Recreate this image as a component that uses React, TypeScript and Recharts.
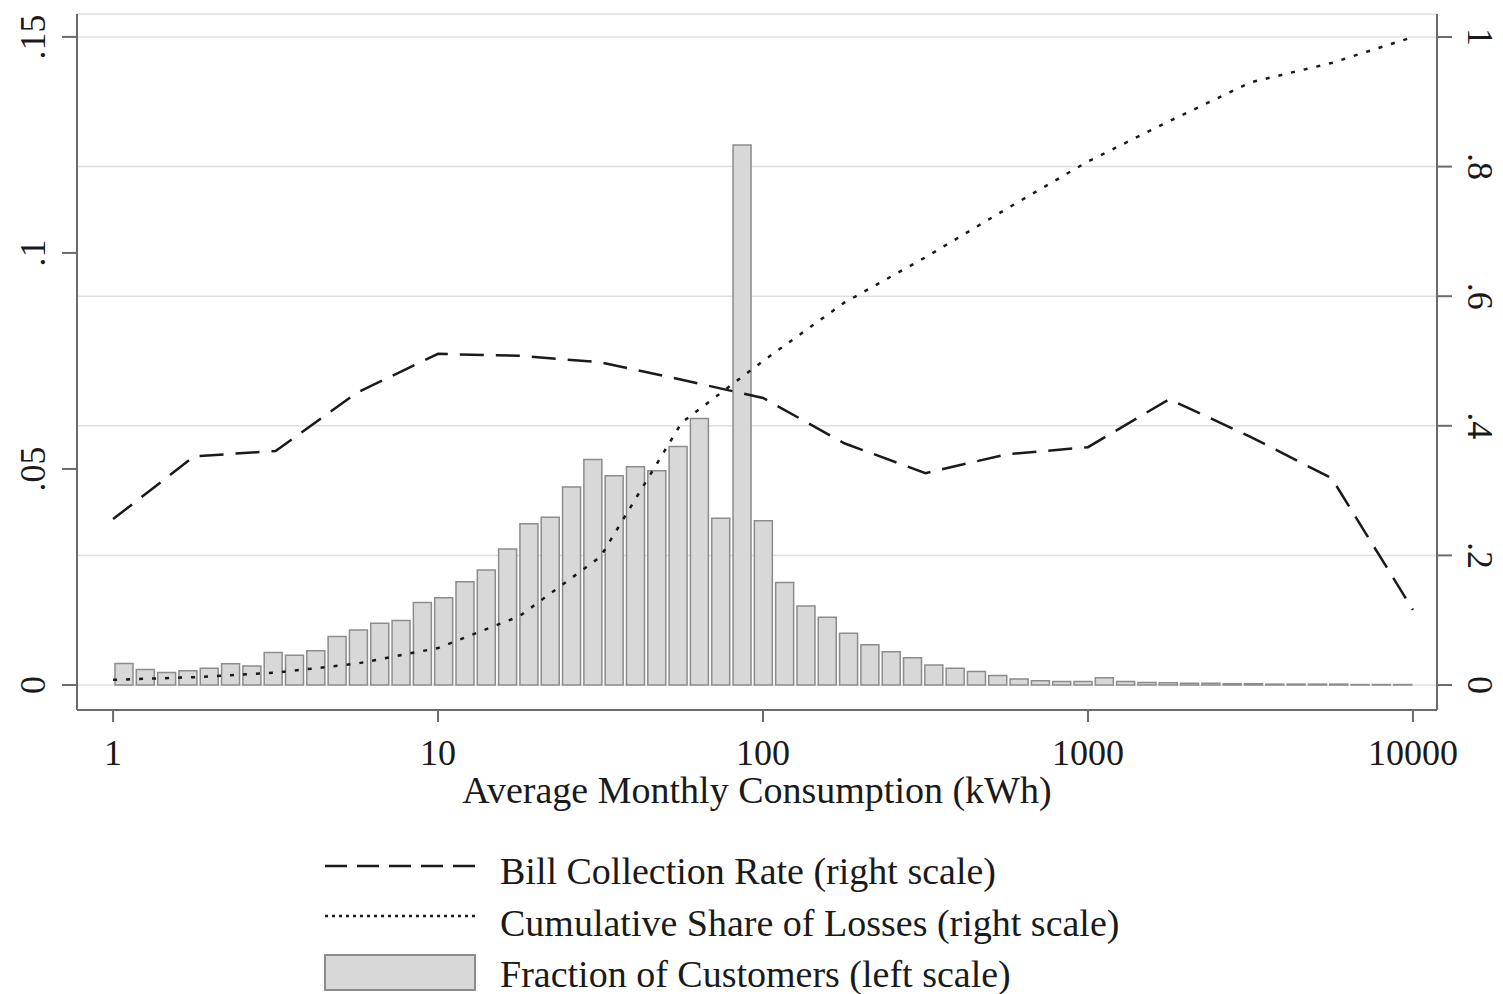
import { ComposedChart, Bar, Line, XAxis, YAxis, CartesianGrid } from 'recharts';

const FONT = '"Liberation Serif", "Times New Roman", serif';

// histogram: 61 equal bins on log10(kWh) from 0 to 4
const binCount = 61;
const fractionOfCustomers = [
  0.005, 0.0036, 0.0029, 0.0033, 0.0039, 0.0049, 0.0044, 0.0075, 0.0069, 0.0079,
  0.0112, 0.0127, 0.0143, 0.0149, 0.0191, 0.0202, 0.0239, 0.0266, 0.0315, 0.0373,
  0.0388, 0.0458, 0.0522, 0.0484, 0.0505, 0.0496, 0.0552, 0.0617, 0.0386, 0.125,
  0.038, 0.0237, 0.0183, 0.0157, 0.012, 0.0093, 0.0077, 0.0063, 0.0046, 0.0039,
  0.0031, 0.0022, 0.0014, 0.001, 0.0008, 0.0008, 0.0017, 0.0008, 0.0006, 0.0005,
  0.0004, 0.0004, 0.0003, 0.0003, 0.0002, 0.0002, 0.0002, 0.0002, 0.0001, 0.0001, 0.0001,
];

// line points, x in log10(kWh)
const lineLogKwh = [0, 0.25, 0.5, 0.75, 1, 1.25, 1.5, 1.75, 2, 2.25, 2.5, 2.75, 3, 3.25, 3.5, 3.75, 4];
const billCollectionRate = [
  0.256, 0.353, 0.361, 0.451, 0.511, 0.508, 0.498, 0.471, 0.443, 0.373, 0.327, 0.356, 0.367, 0.441, 0.383, 0.319, 0.116,
];
const cumulativeShareOfLosses = [
  0.008, 0.012, 0.019, 0.033, 0.057, 0.106, 0.198, 0.405, 0.5, 0.59, 0.66, 0.735, 0.808, 0.87, 0.93, 0.96, 1.0,
];

const kwhTicks = [0, 1, 2, 3, 4];
const kwhTickLabels = ['1', '10', '100', '1000', '10000'];
const leftTicks = [0, 0.05, 0.1, 0.15];
const leftTickLabels = ['0', '.05', '.1', '.15'];
const rightTicks = [0, 0.2, 0.4, 0.6, 0.8, 1];
const rightTickLabels = ['0', '.2', '.4', '.6', '.8', '1'];

const binData = fractionOfCustomers.slice(0, binCount).map((v, i) => ({ bin: i, frac: v }));
const lineData = lineLogKwh.map((x, i) => ({
  logKwh: x,
  bill: billCollectionRate[i],
  cum: cumulativeShareOfLosses[i],
}));

const AXIS = '#6b6b6b';
const INK = '#1a1a1a';

function KwhTick({ x, y, payload }: any) {
  return (
    <text x={x} y={y + 41} textAnchor="middle" fontSize={36} fontFamily={FONT} fill={INK}>
      {kwhTickLabels[kwhTicks.indexOf(payload.value)]}
    </text>
  );
}

function LeftTick({ x, y, payload }: any) {
  const bx = x - 15;
  return (
    <text x={bx} y={y} transform={`rotate(-90 ${bx} ${y})`} textAnchor="middle" fontSize={36} fontFamily={FONT} fill={INK}>
      {leftTickLabels[leftTicks.indexOf(payload.value)]}
    </text>
  );
}

function RightTick({ x, y, payload }: any) {
  const bx = x + 14;
  return (
    <text x={bx} y={y} transform={`rotate(90 ${bx} ${y})`} textAnchor="middle" fontSize={36} fontFamily={FONT} fill={INK}>
      {rightTickLabels[rightTicks.indexOf(payload.value)]}
    </text>
  );
}

function LegendBlock() {
  const textStyle = { fontSize: 38, fontFamily: FONT, fill: INK };
  return (
    <svg width={1495} height={986} style={{ position: 'absolute', left: 0, top: 0, pointerEvents: 'none' }}>
      <line x1={317} x2={467} y1={858} y2={858} stroke={INK} strokeWidth={2.5} strokeDasharray="22 10" />
      <text x={492} y={876} {...textStyle}>Bill Collection Rate (right scale)</text>
      <line x1={317} x2={467} y1={908} y2={908} stroke={INK} strokeWidth={2.5} strokeDasharray="3 4" />
      <text x={492} y={928} {...textStyle}>Cumulative Share of Losses (right scale)</text>
      <rect x={317} y={947} width={150} height={35} fill="#d8d8d8" stroke="#8c8c8c" strokeWidth={2} />
      <text x={492} y={979} {...textStyle}>Fraction of Customers (left scale)</text>
    </svg>
  );
}

export default function App() {
  return (
    <div style={{ position: 'relative', width: 1495, height: 986 }}>
      <ComposedChart width={1495} height={986} data={binData} margin={{ top: 6, right: 0, bottom: 174, left: 0 }}>
        <CartesianGrid yAxisId="share" vertical={false} stroke="#e0e0e0" strokeWidth={1.5} />
        <XAxis xAxisId="bins" dataKey="bin" type="category" hide height={0} padding={{ left: 36, right: 24 }} />
        <XAxis
          xAxisId="kwh"
          dataKey="logKwh"
          type="number"
          domain={[-0.111, 4.074]}
          allowDataOverflow
          ticks={kwhTicks}
          tick={<KwhTick />}
          tickSize={12}
          height={110}
          axisLine={{ stroke: AXIS, strokeWidth: 2 }}
          tickLine={{ stroke: AXIS, strokeWidth: 2 }}
          label={{
            value: 'Average Monthly Consumption (kWh)',
            position: 'insideBottom',
            offset: 17,
            style: { fontSize: 38, fontFamily: FONT, fill: INK },
          }}
        />
        <YAxis
          yAxisId="frac"
          orientation="left"
          width={69}
          domain={[-0.00579, 0.1553]}
          allowDataOverflow
          ticks={leftTicks}
          tick={<LeftTick />}
          tickSize={15}
          axisLine={{ stroke: AXIS, strokeWidth: 2 }}
          tickLine={{ stroke: AXIS, strokeWidth: 2 }}
        />
        <YAxis
          yAxisId="share"
          orientation="right"
          width={66}
          domain={[-0.0386, 1.0355]}
          allowDataOverflow
          ticks={rightTicks}
          tick={<RightTick />}
          tickSize={15}
          axisLine={{ stroke: AXIS, strokeWidth: 2 }}
          tickLine={{ stroke: AXIS, strokeWidth: 2 }}
        />
        <Bar
          xAxisId="bins"
          yAxisId="frac"
          dataKey="frac"
          barSize={18}
          fill="#d8d8d8"
          stroke="#8c8c8c"
          strokeWidth={1.5}
          isAnimationActive={false}
        />
        <Line
          xAxisId="kwh"
          yAxisId="share"
          data={lineData}
          dataKey="bill"
          type="linear"
          stroke={INK}
          strokeWidth={2.5}
          strokeDasharray="24 12"
          dot={false}
          activeDot={false}
          isAnimationActive={false}
        />
        <Line
          xAxisId="kwh"
          yAxisId="share"
          data={lineData}
          dataKey="cum"
          type="linear"
          stroke={INK}
          strokeWidth={2.5}
          strokeDasharray="4 9"
          dot={false}
          activeDot={false}
          isAnimationActive={false}
        />
      </ComposedChart>
      <LegendBlock />
    </div>
  );
}
